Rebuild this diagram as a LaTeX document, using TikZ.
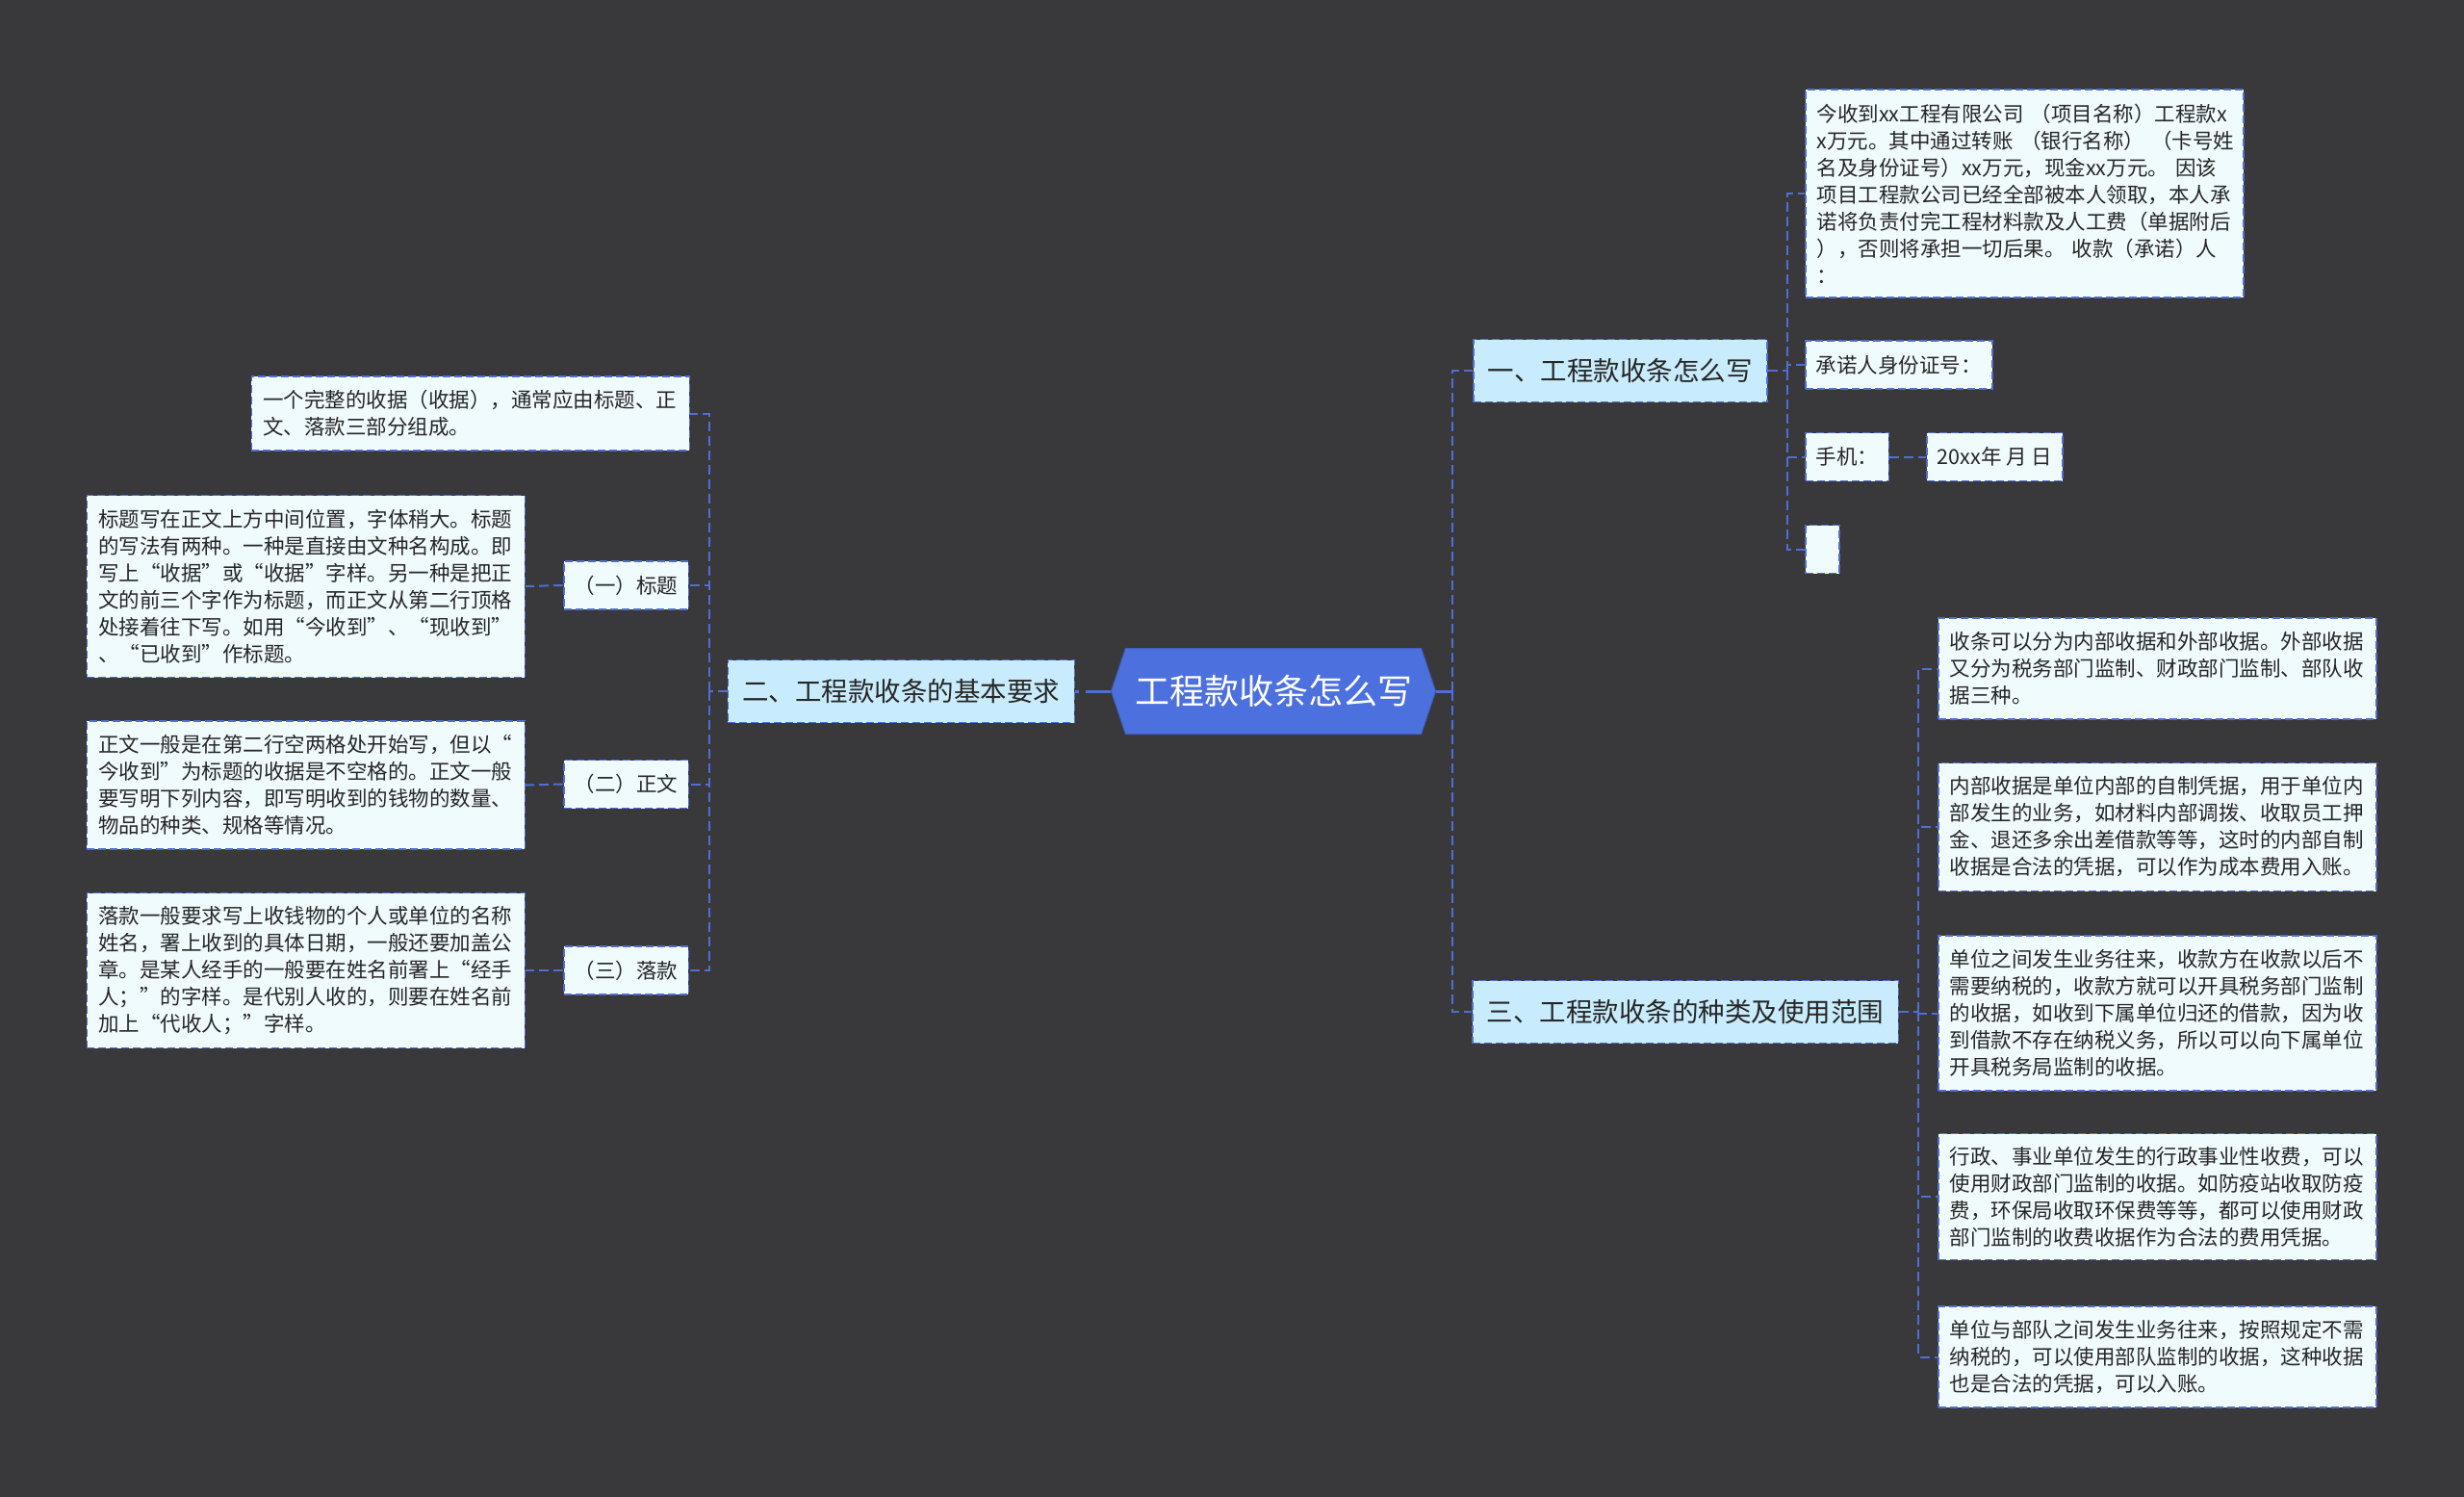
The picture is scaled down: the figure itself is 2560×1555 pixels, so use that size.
\documentclass[tikz,border=0pt]{standalone}
\usepackage{fontspec}
\setmainfont{Noto Sans CJK SC}
\usetikzlibrary{shapes.symbols,positioning}
\definecolor{bgcolor}{RGB}{57,56,59}
\definecolor{linecolor}{RGB}{80,110,212}
\definecolor{rootcolor}{RGB}{76,112,222}
\definecolor{topiccolor}{RGB}{200,236,253}
\definecolor{leafcolor}{RGB}{240,251,254}
\definecolor{inkcolor}{RGB}{38,38,38}

\begin{document}
\begin{tikzpicture}[
  x=1pt, y=-1pt,
  root/.style={
    signal, signal to=west and east, signal pointer angle=143,
    fill=rootcolor, draw=rootcolor!85!black, line width=1pt,
    text=white, minimum width=337pt, minimum height=89pt, inner sep=0pt,
    font=\fontsize{36}{42}\selectfont
  },
  topic/.style={
    draw=linecolor, dash pattern=on 8pt off 4pt, line width=1.5pt,
    fill=topiccolor, text=inkcolor, minimum height=65pt,
    inner xsep=15pt, inner ysep=0pt,
    font=\fontsize{27.5}{33}\selectfont
  },
  leaf/.style={
    draw=linecolor, dash pattern=on 8pt off 4pt, line width=1.5pt,
    fill=leafcolor, text=inkcolor, minimum height=50pt,
    inner xsep=11pt, inner ysep=0pt,
    font=\fontsize{21.5}{28}\selectfont
  },
  note/.style={leaf, text width=431pt, inner xsep=12pt, align=left, minimum height=#1},
  link/.style={draw=linecolor, line width=2pt, dash pattern=on 10pt off 5pt},
  rootlink/.style={draw=linecolor, line width=3pt, dash pattern=on 26pt off 7pt}
]

\fill[bgcolor] (0,0) rectangle (2560,1555);
\useasboundingbox (0,0) rectangle (2560,1555);

% -------- Root --------
\node[root] (root) at (1323,718) {工程款收条怎么写};

% -------- Topics --------
\node[topic, anchor=west] (s1) at (1530,385) {一、工程款收条怎么写};
\node[topic, anchor=east] (s2) at (1117,718) {二、工程款收条的基本要求};
\node[topic, anchor=west] (s3) at (1529,1051) {三、工程款收条的种类及使用范围};

% -------- Part one --------
\node[note=216pt, anchor=west] (a1) at (1875,201)
{今收到xx工程有限公司~（项目名称）工程款x\\
x万元。其中通过转账~（银行名称）~（卡号姓\\
名及身份证号）xx万元，现金xx万元。~因该\\
项目工程款公司已经全部被本人领取，本人承\\
诺将负责付完工程材料款及人工费（单据附后\\
），否则将承担一切后果。~收款（承诺）人\\
：};
\node[leaf, anchor=west] (a2) at (1875,379) {承诺人身份证号：};
\node[leaf, anchor=west] (a3) at (1875,474.5) {手机：};
\node[leaf, anchor=west] (a4) at (2001,474.5) {20xx年 月 日};
\node[leaf, anchor=west, minimum width=35pt] (a5) at (1875,570.5) {};

% -------- Part two --------
\node[note=77pt, anchor=east] (c0) at (717,429.5)
{一个完整的收据（收据），通常应由标题、正\\
文、落款三部分组成。};
\node[leaf, anchor=east] (t1) at (716,608) {（一）标题};
\node[leaf, anchor=east] (t2) at (716,814.5) {（二）正文};
\node[leaf, anchor=east] (t3) at (716,1008) {（三）落款};

\node[note=189pt, anchor=east] (d1) at (546,609)
{标题写在正文上方中间位置，字体稍大。标题\\
的写法有两种。一种是直接由文种名构成。即\\
写上“收据”或“收据”字样。另一种是把正\\
文的前三个字作为标题，而正文从第二行顶格\\
处接着往下写。如用“今收到”、“现收到”\\
、“已收到”作标题。};
\node[note=133pt, anchor=east] (d2) at (546,815.5)
{正文一般是在第二行空两格处开始写，但以“\\
今收到”为标题的收据是不空格的。正文一般\\
要写明下列内容，即写明收到的钱物的数量、\\
物品的种类、规格等情况。};
\node[note=161pt, anchor=east] (d3) at (546,1008)
{落款一般要求写上收钱物的个人或单位的名称\\
姓名，署上收到的具体日期，一般还要加盖公\\
章。是某人经手的一般要在姓名前署上“经手\\
人；”的字样。是代别人收的，则要在姓名前\\
加上“代收人；”字样。};

% -------- Part three --------
\node[note=105pt, anchor=west] (b1) at (2013,694.5)
{收条可以分为内部收据和外部收据。外部收据\\
又分为税务部门监制、财政部门监制、部队收\\
据三种。};
\node[note=133pt, anchor=west] (b2) at (2013,859)
{内部收据是单位内部的自制凭据，用于单位内\\
部发生的业务，如材料内部调拨、收取员工押\\
金、退还多余出差借款等等，这时的内部自制\\
收据是合法的凭据，可以作为成本费用入账。};
\node[note=161pt, anchor=west] (b3) at (2013,1052.5)
{单位之间发生业务往来，收款方在收款以后不\\
需要纳税的，收款方就可以开具税务部门监制\\
的收据，如收到下属单位归还的借款，因为收\\
到借款不存在纳税义务，所以可以向下属单位\\
开具税务局监制的收据。};
\node[note=131pt, anchor=west] (b4) at (2013,1243)
{行政、事业单位发生的行政事业性收费，可以\\
使用财政部门监制的收据。如防疫站收取防疫\\
费，环保局收取环保费等等，都可以使用财政\\
部门监制的收费收据作为合法的费用凭据。};
\node[note=105pt, anchor=west] (b5) at (2013,1409.5)
{单位与部队之间发生业务往来，按照规定不需\\
纳税的，可以使用部队监制的收据，这种收据\\
也是合法的凭据，可以入账。};

% -------- Links --------
\draw[rootlink] (root.west) -- (s2.east);
\draw[rootlink] (root.east) -- ++(17,0) coordinate (rj);
\draw[link] (rj) |- (s1.west);
\draw[link] (rj) |- (s3.west);

\draw[link] (s1.east) -- ++(20,0) coordinate (aj);
\foreach \n in {a1,a2,a3,a5} \draw[link] (aj) |- (\n.west);
\draw[link] (a3.east) -- (a4.west);

\draw[link] (s2.west) -- ++(-19,0) coordinate (cj);
\foreach \n in {c0,t1,t2,t3} \draw[link] (cj) |- (\n.east);
\draw[link] (t1.west) -- (d1.east);
\draw[link] (t2.west) -- (d2.east);
\draw[link] (t3.west) -- (d3.east);

\draw[link] (s3.east) -- ++(20,0) coordinate (bj);
\foreach \n in {b1,b2,b3,b4,b5} \draw[link] (bj) |- (\n.west);

\end{tikzpicture}
\end{document}
